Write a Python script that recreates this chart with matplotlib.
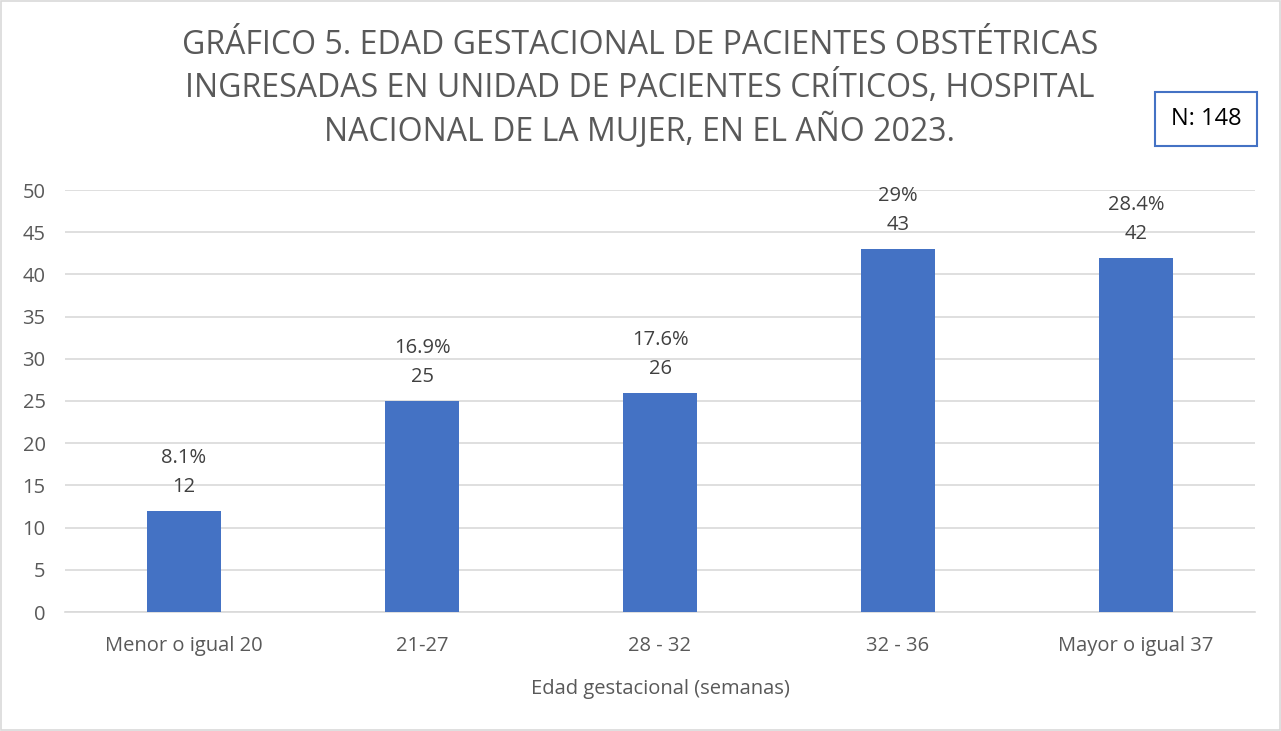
import matplotlib.pyplot as plt
from matplotlib.patches import Rectangle

plt.rcParams['font.family'] = ['Open Sans', 'DejaVu Sans']

categorias = ['Menor o igual 20', '21-27', '28 - 32', '32 - 36', 'Mayor o igual 37']
pacientes = [12, 25, 26, 43, 42]
porcentajes = ['8.1%', '16.9%', '17.6%', '29%', '28.4%']
titulo = ('GRÁFICO 5. EDAD GESTACIONAL DE PACIENTES OBSTÉTRICAS\n'
          'INGRESADAS EN UNIDAD DE PACIENTES CRÍTICOS, HOSPITAL\n'
          'NACIONAL DE LA MUJER, EN EL AÑO 2023.')

fig = plt.figure(figsize=(12.81, 7.31), dpi=100)
ax = fig.add_axes([65 / 1281, 1 - 612 / 731, 1190 / 1281, 422 / 731])

x = range(len(categorias))
ax.bar(x, pacientes, width=0.31, color='#4472C4', zorder=3)

for xi, v, p in zip(x, pacientes, porcentajes):
    ax.annotate(str(v), (xi, v), xytext=(0, 17), textcoords='offset points',
                ha='center', va='center', fontsize=14.5, color='#404040')
    ax.annotate(p, (xi, v), xytext=(0, 38), textcoords='offset points',
                ha='center', va='center', fontsize=14.5, color='#404040')

ax.set_xlim(-0.5, len(categorias) - 0.5)
ax.set_ylim(0, 50)
ax.set_yticks(range(0, 51, 5))
ax.set_xticks(list(x))
ax.set_xticklabels(categorias)
ax.grid(axis='y', color='#d9d9d9', linewidth=1.2, zorder=0)
for s in ['top', 'right', 'left']:
    ax.spines[s].set_visible(False)
ax.spines['bottom'].set_color('#d9d9d9')
ax.spines['bottom'].set_linewidth(1.2)
ax.tick_params(length=0, labelsize=14.5, labelcolor='#595959')
ax.tick_params(axis='x', pad=17)
ax.tick_params(axis='y', pad=14)
ax.set_xlabel('Edad gestacional (semanas)', fontsize=14.5, color='#595959', labelpad=17)

fig.text(640 / 1281, 1 - 89 / 731, titulo, ha='center', va='center',
         fontsize=23, color='#595959', linespacing=1.3)

fig.text(1206 / 1281, 1 - 119 / 731, 'N: 148', ha='center', va='center',
         fontsize=17, color='black',
         bbox=dict(boxstyle='square,pad=0.65', facecolor='white', edgecolor='#4472C4', linewidth=1.5))

fig.patches.append(Rectangle((0.001, 0.001), 0.998, 0.998, transform=fig.transFigure,
                             fill=False, edgecolor='#d9d9d9', linewidth=1.2))

plt.savefig('out.png', dpi=100)
